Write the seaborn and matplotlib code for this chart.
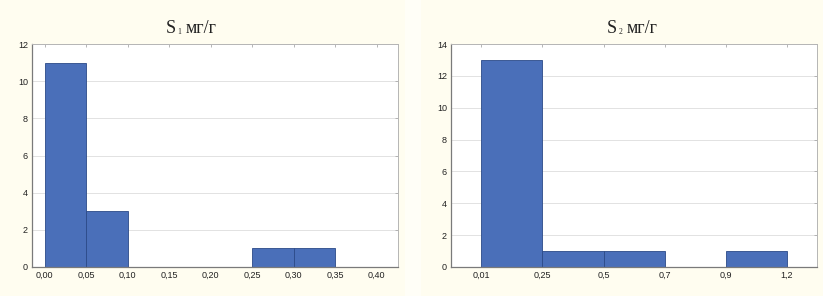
import matplotlib
matplotlib.use("Agg")
import matplotlib.pyplot as plt
from matplotlib.patches import Rectangle
from matplotlib.text import Annotation
import seaborn as sns
import numpy as np

# Data
s1_edges = [0.00, 0.05, 0.10, 0.15, 0.20, 0.25, 0.30, 0.35, 0.40]
s1_counts = [11, 3, 0, 0, 0, 1, 1, 0]
s1_ticklabels = ["0,00", "0,05", "0,10", "0,15", "0,20", "0,25", "0,30", "0,35", "0,40"]

s2_ticklabels = ["0,01", "0,25", "0,5", "0,7", "0,9", "1,2"]
s2_counts = [13, 1, 1, 0, 1]

title_main = "S"
title_subs = ["1", "2"]
title_unit = "мг/г"

sns.set_style("white")
plt.rcParams['font.family'] = ['Liberation Sans', 'DejaVu Sans']

bar_face = '#4a6fb9'
bar_edge = '#2b4a88'
bg = '#fffdf0'

fig = plt.figure(figsize=(8.23, 2.96), dpi=100, facecolor=bg)
# slightly lighter strip between the two panels
fig.patches.append(Rectangle((405/823, 0), 16/823, 1, transform=fig.transFigure,
                             facecolor='#fffef7', edgecolor='none', zorder=0))
ax1 = fig.add_axes([32/823, 1-267/296, 366/823, 223/296])
ax2 = fig.add_axes([451/823, 1-267/296, 366/823, 223/296])

# Left histogram
s1_edges_a = np.array(s1_edges)
s1_centers = list((s1_edges_a[:-1] + s1_edges_a[1:]) / 2)
sns.histplot(x=s1_centers, weights=s1_counts, bins=list(s1_edges), ax=ax1,
             color=bar_face, edgecolor=bar_edge, linewidth=0.6, alpha=1)
ax1.set_xlim(-0.0153, 0.4257)
ax1.set_ylim(0, 12)
ax1.set_xticks(s1_edges)
ax1.set_xticklabels(s1_ticklabels)
ax1.set_yticks(range(0, 13, 2))

# Right histogram (equal-width class intervals)
s2_pos = [float(i) for i in range(len(s2_ticklabels))]
s2_centers = [p + 0.5 for p in s2_pos[:-1]]
sns.histplot(x=s2_centers, weights=s2_counts, bins=s2_pos, ax=ax2,
             color=bar_face, edgecolor=bar_edge, linewidth=0.6, alpha=1)
ax2.set_xlim(-0.496, 5.49)
ax2.set_ylim(0, 14)
ax2.set_xticks(s2_pos)
ax2.set_xticklabels(s2_ticklabels)
ax2.set_yticks(range(0, 15, 2))

for ax in (ax1, ax2):
    ax.set_facecolor('white')
    ax.set_xlabel('')
    ax.set_ylabel('')
    ax.set_axisbelow(True)
    ax.yaxis.grid(True, color='#e2e2e2', linewidth=0.7)
    ax.xaxis.grid(False)
    ax.tick_params(axis='both', labelsize=6.5, labelcolor='#222222', length=2.5,
                   width=0.6, direction='in', pad=3, top=True, right=True,
                   labeltop=False, labelright=False, color='#aaaaaa')
    for side in ('left', 'bottom'):
        ax.spines[side].set_color('#7a7a7a')
        ax.spines[side].set_linewidth(0.9)
    for side in ('top', 'right'):
        ax.spines[side].set_color('#b5b5b5')
        ax.spines[side].set_linewidth(0.7)
        ax.spines[side].set_visible(True)


def draw_title(x_left_px, sub):
    y = 1 - 33/296
    t1 = fig.text(x_left_px/823, y, title_main, ha='left', va='baseline',
                  fontsize=13, family='Liberation Serif', color='#222222')
    fig.add_artist(Annotation(sub, xy=(1, 0), xycoords=t1, xytext=(0.8, 0.8),
                              textcoords='offset points', ha='left', va='bottom',
                              fontsize=5.5, family='Liberation Serif', color='#222222'))
    fig.add_artist(Annotation(title_unit, xy=(1, 0), xycoords=t1, xytext=(6.5, 0),
                              textcoords='offset points', ha='left', va='bottom',
                              fontsize=13, family='Liberation Serif', color='#222222'))


draw_title(166, title_subs[0])
draw_title(607, title_subs[1])

fig.savefig('out.png', dpi=100, facecolor=bg)
